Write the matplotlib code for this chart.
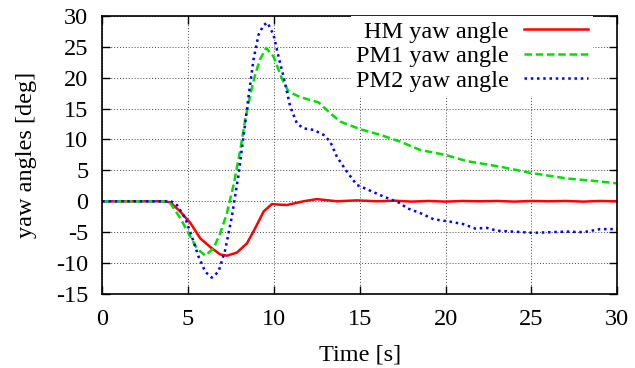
#!/usr/bin/env python3
"""Yaw angles of HM, PM1 and PM2 over time (gnuplot-like look)."""
import matplotlib
matplotlib.use('Agg')
import matplotlib.pyplot as plt

# values
hm_t = [0, 3.5, 3.96, 4.54, 5.13, 5.71, 6.29, 6.87, 7.26, 7.84, 8.43, 8.91, 9.4, 9.88,
        10.37, 10.76, 11.72, 12.5, 13.67, 14.83, 16, 17, 18, 19, 20, 21, 22, 23, 24,
        25, 26, 27, 28, 29, 30]
hm_v = [0, 0, -0.15, -1.65, -3.5, -6.0, -7.4, -8.6, -8.8, -8.3, -6.8, -4.35, -1.65, -0.45,
        -0.55, -0.6, 0.0, 0.35, 0.0, 0.15, 0.0, 0.1, -0.05, 0.05, -0.05, 0.05, 0.0, 0.05,
        -0.05, 0.05, 0.0, 0.05, -0.05, 0.05, 0.0]

pm1_t = [0, 3.6, 3.96, 4.54, 5.13, 5.51, 6.0, 6.48, 6.87, 7.26, 7.65, 8.04, 8.33, 8.62,
         8.91, 9.2, 9.55, 9.98, 10.46, 10.85, 11.53, 12.6, 13.28, 13.86, 15.03, 16.19,
         17.36, 18.52, 20, 21.24, 23.18, 24.93, 27.06, 29, 30]
pm1_v = [0, 0, -0.3, -2.7, -5.7, -7.6, -8.8, -7.6, -5.2, -1.95, 2.65, 8.3, 13.2, 17.2,
         20.5, 23.0, 24.8, 23.4, 19.9, 17.75, 16.85, 16.0, 14.25, 12.9, 11.65, 10.75,
         9.65, 8.3, 7.5, 6.5, 5.6, 4.6, 3.7, 3.2, 2.9]

pm2_t = [0, 3.7, 3.96, 4.35, 4.83, 5.22, 5.61, 6.0, 6.38, 6.77, 7.16, 7.55, 7.94, 8.23,
         8.52, 8.81, 9.1, 9.4, 9.63, 9.98, 10.27, 10.56, 10.95, 11.34, 11.72, 12.31,
         12.89, 13.28, 13.67, 14.25, 14.83, 15.42, 16.19, 16.77, 17.36, 17.74, 18.52,
         19.3, 20.27, 21.04, 21.72, 22.4, 22.99, 25.12, 27.06, 28.03, 29, 30]
pm2_v = [0, 0, 0.1, -0.6, -2.7, -5.7, -8.95, -11.4, -12.35, -11.4, -7.9, -2.5, 4.3, 10.5,
         16.9, 22.9, 26.9, 28.5, 28.9, 26.9, 23.4, 20.2, 15.3, 12.6, 11.8, 11.55,
         10.75, 9.65, 7.2, 4.8, 2.65, 1.95, 1.0, 0.35, -0.3, -1.1, -1.9,
         -2.9, -3.3, -3.7, -4.4, -4.3, -4.75, -5.1, -4.9, -5.0, -4.5, -4.5]

plt.rcParams['font.family'] = ['Liberation Serif', 'DejaVu Serif']
plt.rcParams['font.size'] = 17.5
plt.rcParams['axes.unicode_minus'] = False

fig, ax = plt.subplots(figsize=(6.35, 3.68), dpi=100)
fig.subplots_adjust(left=0.161, right=0.972, top=0.957, bottom=0.201)

ax.plot(hm_t, hm_v, color='#ff0000', linewidth=1.8, label='HM yaw angle')
ax.plot(pm1_t, pm1_v, color='#00e000', linewidth=1.8, linestyle=(0, (3, 1.5)),
        label='PM1 yaw angle')
ax.plot(pm2_t, pm2_v, color='#0000ff', linewidth=1.8, linestyle=(0, (1, 1.5)),
        label='PM2 yaw angle')

ax.set_xlim(0, 30)
ax.set_ylim(-15, 30)
ax.set_xticks(range(0, 31, 5))
ax.set_yticks(range(-15, 31, 5))
ax.tick_params(axis='x', direction='in', top=True, length=6, width=1, pad=11)
ax.tick_params(axis='y', direction='in', right=True, length=6, width=1, pad=10)
for sp in ax.spines.values():
    sp.set_linewidth(1.2)
ax.grid(True, color='#444444', linestyle=(0, (1, 2)), linewidth=0.7)

ax.set_xlabel('Time [s]', labelpad=10)
ax.set_ylabel('yaw angles [deg]', labelpad=14)

leg = ax.legend(loc='upper right', bbox_to_anchor=(0.952, 1.0), markerfirst=False,
                frameon=True, fancybox=False, handlelength=2.6, handletextpad=0.65,
                labelspacing=0.1, borderaxespad=0.0, borderpad=0.2)
leg.get_frame().set_facecolor('white')
leg.get_frame().set_edgecolor('none')
leg.get_frame().set_alpha(1)
for t in leg.get_texts():
    t.set_ha('right')

fig.savefig('out.png', dpi=100)
